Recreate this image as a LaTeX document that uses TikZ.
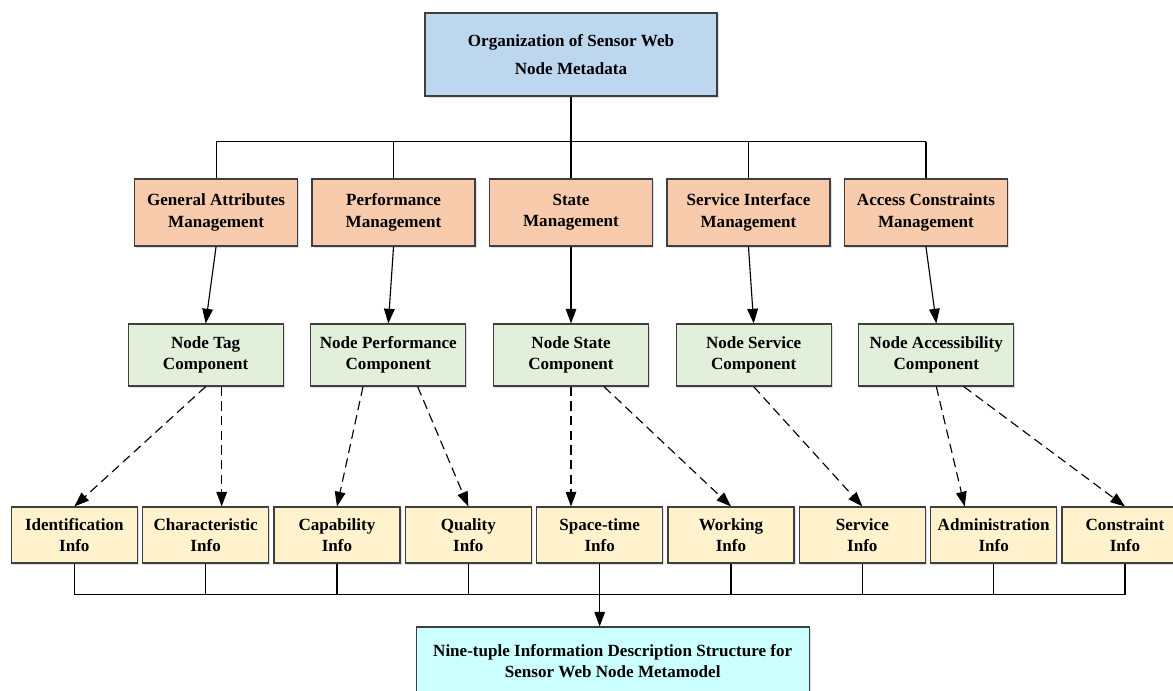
\documentclass[tikz,border=0pt]{standalone}
\usepackage{fontspec}
\setmainfont{Liberation Serif}
\usepackage{xcolor}
\usepackage{tikz}
\usetikzlibrary{positioning, arrows.meta, shadows}

\definecolor{topfill}{HTML}{BDD7EE}
\definecolor{mgmtfill}{HTML}{F8CBAD}
\definecolor{compfill}{HTML}{E2EFDA}
\definecolor{infofill}{HTML}{FFF2CC}
\definecolor{resfill}{HTML}{CCFFFF}
\definecolor{edge}{HTML}{3F3F3F}

\begin{document}
\begin{tikzpicture}[on grid, node distance=133.1pt,
        box/.style={draw=edge, line width=0.9pt, align=center, inner sep=2pt,
            font=\bfseries\fontsize{12.8}{16}\selectfont,
            drop shadow={shadow xshift=1.2pt, shadow yshift=-1.2pt, fill=blue!35!gray, opacity=0.2}},
        topbox/.style={box, fill=topfill, minimum width=219pt, minimum height=62.25pt,
            font=\bfseries\fontsize{12.8}{20.5}\selectfont},
        mgmt/.style={box, fill=mgmtfill, minimum width=122.25pt, minimum height=50.25pt},
        comp/.style={box, fill=compfill, minimum width=116.25pt, minimum height=46.5pt},
        info/.style={box, fill=infofill, minimum width=94.5pt, minimum height=42pt},
        resbox/.style={box, fill=resfill, minimum width=294.75pt, minimum height=51pt},
        link/.style={line width=0.85pt},
        arr/.style={link, -{Triangle[length=11pt, width=8pt]}},
        darr/.style={arr, dash pattern=on 7pt off 4pt}]

        \clip (0,0) rectangle (879.75pt,-517.5pt);

        \node[topbox] (top) at (428.25pt,-40.875pt) {Organization of Sensor Web\\Node Metadata};

        \node[mgmt] (o3) [below=118.5pt of top] {State\\Management};
        \node[mgmt] (o2) [left=of o3] {Performance\\Management};
        \node[mgmt] (o1) [left=of o2] {General Attributes\\Management};
        \node[mgmt] (o4) [right=of o3] {Service Interface\\Management};
        \node[mgmt] (o5) [right=of o4] {Access Constraints\\Management};

        \node[comp] (g3) [below=106.9pt of o3] {Node State\\Component};
        \node[comp] (g2) [left=137pt of g3] {Node Performance\\Component};
        \node[comp] (g1) [left=137pt of g2] {Node Tag\\Component};
        \node[comp] (g4) [right=137pt of g3] {Node Service\\Component};
        \node[comp] (g5) [right=137pt of g4] {Node Accessibility\\Component};

        \node[info] (y2) [below=135pt of g1] {Characteristic\\Info};
        \node[info] (y1) [left=98.5pt of y2] {Identification\\Info};
        \node[info] (y3) [right=98.5pt of y2] {Capability\\Info};
        \node[info] (y4) [right=98.5pt of y3] {Quality\\Info};
        \node[info] (y5) [right=98.5pt of y4] {Space-time\\Info};
        \node[info] (y6) [right=98.5pt of y5] {Working\\Info};
        \node[info] (y7) [right=98.5pt of y6] {Service\\Info};
        \node[info] (y8) [right=98.5pt of y7] {Administration\\Info};
        \node[info] (y9) [right=98.5pt of y8] {Constraint\\Info};

        \node[resbox] (res) [below=94.5pt of y5, xshift=9.75pt]
            {Nine-tuple Information Description Structure for\\Sensor Web Node Metamodel};

        % upper bus
        \coordinate (topbus) at ([yshift=-33.75pt]top.south);
        \draw[link] (top.south) -- (topbus);
        \draw[link] (o1.north |- topbus) -- (o5.north |- topbus);
        \foreach \n in {o1,o2,o3,o4,o5}
            \draw[link] (\n.north |- topbus) -- (\n.north);

        \foreach \n in {1,...,5}
            \draw[arr] (o\n.south) -- (g\n.north);

        \draw[darr] (g1.south) -- (y1.north);
        \draw[darr] ([xshift=12pt]g1.south) -- ([xshift=12pt]y2.north);
        \draw[darr] ([xshift=-19pt]g2.south) -- (y3.north);
        \draw[darr] ([xshift=22pt]g2.south) -- (y4.north);
        \draw[darr] (g3.south) -- (g3.south |- y5.north);
        \draw[darr] ([xshift=24.75pt]g3.south) -- (y6.north);
        \draw[darr] (g4.south) -- (y7.north);
        \draw[darr] (g5.south) -- ([xshift=-21.75pt]y8.north);
        \draw[darr] ([xshift=20.6pt]g5.south) -- (y9.north);

        % lower bus
        \coordinate (lowbus) at ([yshift=-23.25pt]y1.south);
        \draw[link] (y1.south |- lowbus) -- (y9.south |- lowbus);
        \foreach \n in {1,...,9}
            \draw[link] (y\n.south) -- (y\n.south |- lowbus);
        \draw[arr] (y5.south |- lowbus) -- (y5.south |- res.north);

\end{tikzpicture}
\end{document}
